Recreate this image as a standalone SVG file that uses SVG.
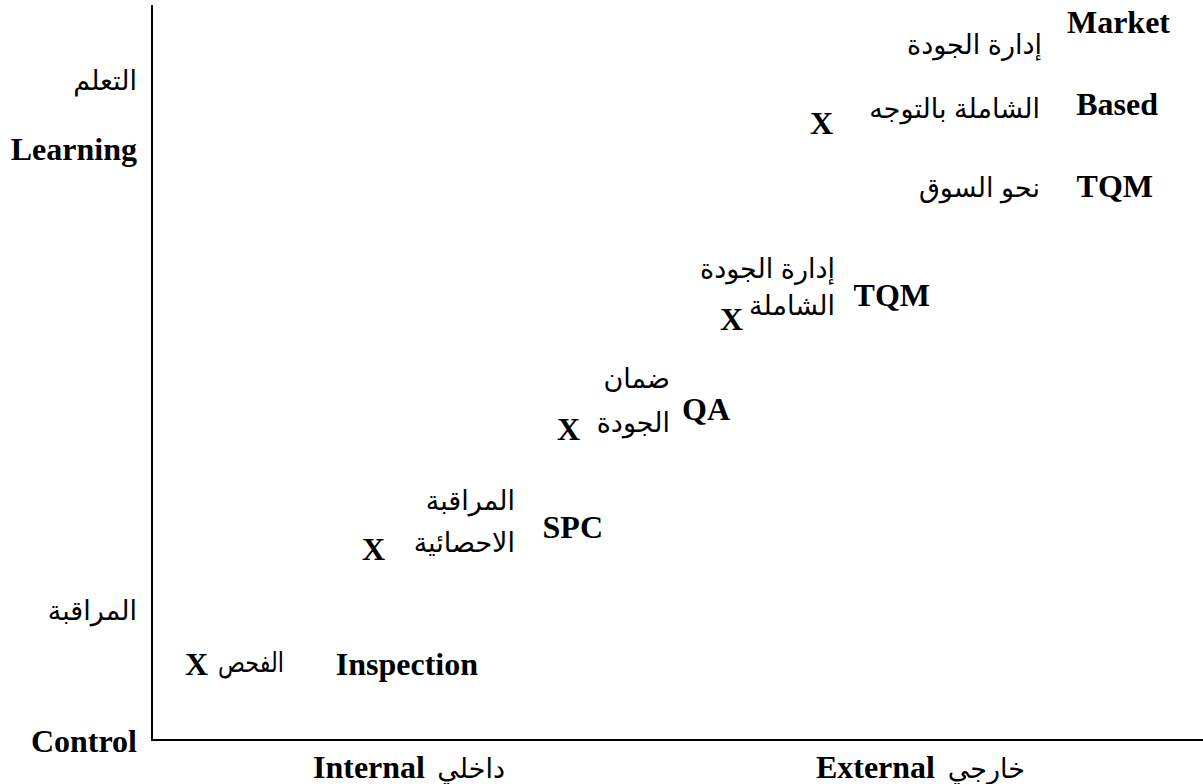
<svg xmlns="http://www.w3.org/2000/svg" width="1203" height="784" viewBox="0 0 1203 784">
  <style>
    .en { font-family: "Liberation Serif", "Times New Roman", serif; font-weight: bold; font-size: 32px; fill: #000; }
    .ar { font-family: "Liberation Sans", Arial, "DejaVu Sans", sans-serif; font-size: 27px; fill: #000; }
    .x  { font-family: "Liberation Serif", "Times New Roman", serif; font-weight: bold; font-size: 32px; fill: #000; }
    .axis { stroke: #000; stroke-width: 2; fill: none; }
  </style>
  <rect width="1203" height="784" fill="#fff"/>

  <!-- axes -->
  <g id="axes">
    <line class="axis" x1="152" y1="5" x2="152" y2="741"/>
    <line class="axis" x1="151" y1="740" x2="1203" y2="740"/>
  </g>

  <!-- vertical axis labels -->
  <g id="y-top">
    <text class="ar" x="137" y="90" text-anchor="end">التعلم</text>
    <text class="en" x="137" y="160" text-anchor="end">Learning</text>
  </g>
  <g id="y-bottom">
    <text class="ar" x="137" y="620" text-anchor="end">المراقبة</text>
    <text class="en" x="137" y="752" text-anchor="end">Control</text>
  </g>

  <!-- horizontal axis labels -->
  <g id="x-left">
    <text class="en" x="425" y="778" text-anchor="end">Internal</text>
    <text class="ar" x="505" y="778" text-anchor="end">داخلي</text>
  </g>
  <g id="x-right">
    <text class="en" x="935" y="778" text-anchor="end">External</text>
    <text class="ar" x="1025" y="778" text-anchor="end">خارجي</text>
  </g>

  <!-- stages -->
  <g id="inspection">
    <text class="x" x="185" y="675">X</text>
    <text class="ar" x="218" y="672" textLength="66" lengthAdjust="spacingAndGlyphs">الفحص</text>
    <text class="en" x="478" y="675" text-anchor="end">Inspection</text>
  </g>

  <g id="spc">
    <text class="ar" x="515" y="510" text-anchor="end">المراقبة</text>
    <text class="ar" x="515" y="552" text-anchor="end">الاحصائية</text>
    <text class="x" x="362" y="560">X</text>
    <text class="en" x="603" y="538" text-anchor="end">SPC</text>
  </g>

  <g id="qa">
    <text class="ar" x="670" y="388" text-anchor="end">ضمان</text>
    <text class="ar" x="670" y="432" text-anchor="end">الجودة</text>
    <text class="x" x="557" y="440">X</text>
    <text class="en" x="730" y="420" text-anchor="end">QA</text>
  </g>

  <g id="tqm">
    <text class="ar" x="835" y="278" text-anchor="end">إدارة الجودة</text>
    <text class="ar" x="835" y="315" text-anchor="end">الشاملة</text>
    <text class="x" x="720" y="330">X</text>
    <text class="en" x="930" y="306" text-anchor="end">TQM</text>
  </g>

  <g id="market-tqm">
    <text class="en" x="1170" y="33" text-anchor="end">Market</text>
    <text class="ar" x="1042" y="54" text-anchor="end">إدارة الجودة</text>
    <text class="en" x="1158" y="115" text-anchor="end">Based</text>
    <text class="ar" x="1040" y="118" text-anchor="end">الشاملة بالتوجه</text>
    <text class="x" x="810" y="134">X</text>
    <text class="en" x="1153" y="197" text-anchor="end">TQM</text>
    <text class="ar" x="1040" y="197" text-anchor="end">نحو السوق</text>
  </g>
</svg>
